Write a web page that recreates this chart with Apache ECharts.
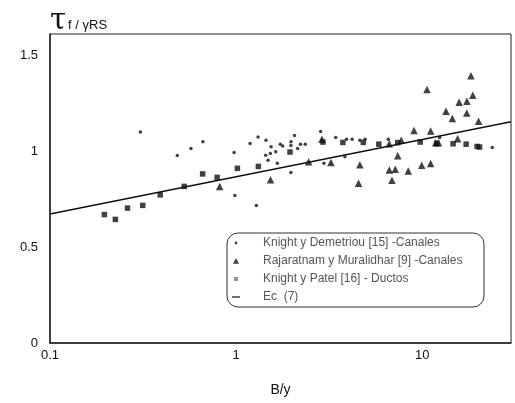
<!DOCTYPE html>
<html>
<head>
<meta charset="utf-8">
<script src="https://cdn.jsdelivr.net/npm/echarts@6/dist/echarts.min.js"></script>
<style>html,body{margin:0;padding:0;background:#fff}#c{width:515px;height:403px}</style>
</head>
<body>
<div id="c"></div>
<script>
// Knight y Demetriou [15] - Canales (dots)
var demetriouPts = [
  [0.306,1.100],[0.483,0.977],[0.572,1.014],[0.663,1.048],[0.976,0.993],[0.984,0.769],
  [1.189,1.040],[1.285,0.717],[1.312,1.073],[1.443,0.978],[1.448,1.056],[1.485,0.952],
  [1.527,0.988],[1.541,1.022],[1.633,0.996],[1.665,0.936],[1.728,1.035],[1.780,1.026],
  [1.972,1.048],[1.970,1.029],[1.970,0.889],[2.059,1.081],[2.142,1.013],[2.217,1.035],
  [2.352,1.036],[2.846,1.102],[2.964,0.936],[3.428,1.071],[3.841,0.970],[3.922,1.062],
  [4.203,1.062],[4.623,1.057],[4.935,1.061],[6.573,1.061],[12.41,1.071],[23.79,1.019]
];
// Rajaratnam y Muralidhar [9] - Canales (triangles)
var rajaratnamPts = [
  [0.816,0.816],[1.531,0.850],[2.454,0.945],[2.892,1.062],[3.232,0.940],[4.623,0.929],
  [4.549,0.832],[6.655,0.901],[6.879,0.848],[7.165,0.905],[7.389,0.975],[7.716,1.057],
  [6.650,1.038],[8.414,0.896],[9.036,1.107],[9.94,0.926],[10.61,1.321],[11.11,1.104],
  [11.10,0.935],[11.82,1.043],[12.22,1.043],[13.42,1.207],[14.52,1.170],[15.50,1.064],
  [15.79,1.255],[17.39,1.259],[17.35,1.199],[18.27,1.392],[18.70,1.291],[20.09,1.155]
];
// Knight y Patel [16] - Ductos (squares)
var patelPts = [
  [0.196,0.669],[0.2245,0.644],[0.261,0.703],[0.315,0.717],[0.391,0.772],[0.526,0.816],
  [0.661,0.881],[0.791,0.863],[1.016,0.910],[1.317,0.920],[1.948,0.995],[2.928,1.047],
  [3.747,1.045],[4.826,1.045],[5.846,1.036],[7.389,1.044],[9.76,1.047],[11.96,1.040],
  [14.66,1.038],[17.22,1.036],[19.72,1.024],[20.33,1.021]
];
// Ec (7)
var ecLine = [[0.1,0.672],[1,0.866],[10,1.060],[30,1.153]];

var seriesNames = [
  'Knight y Demetriou [15] -Canales',
  'Rajaratnam y Muralidhar [9] -Canales',
  'Knight y Patel [16] - Ductos',
  'Ec  (7)'
];
var xTicks = [0.1, 1, 10];
var yTicks = [0, 0.5, 1, 1.5];

function pickTick(list, v) {
  for (var i = 0; i < list.length; i++) {
    if (Math.abs(v - list[i]) < 1e-6 * Math.max(1, list[i])) return String(list[i]);
  }
  return '';
}

var chart = echarts.init(document.getElementById('c'), null, {renderer:'canvas'});
var FONT = 'Liberation Sans, Arial, sans-serif';
chart.setOption({
  animation: false,
  backgroundColor: '#fff',
  title: {
    text: '{a|τ}{b|f / γRS}',
    left: 45, top: 2,
    textStyle: {
      fontWeight: 'normal',
      rich: {
        a: {fontSize: 29, fontFamily: 'DejaVu Serif', fontWeight: 'normal', color: '#111'},
        b: {fontSize: 13, fontFamily: FONT, fontWeight: 'normal', color: '#111', padding:[7,0,0,2]}
      }
    }
  },
  grid: {left: 50, right: 4, top: 34, bottom: 60, show: true, borderColor: '#222', borderWidth: 1},
  xAxis: {
    type: 'log', logBase: 10, min: 0.1, max: 30,
    name: 'B/y', nameLocation: 'middle', nameGap: 40,
    nameTextStyle: {fontSize: 14, fontFamily: FONT, color: '#111'},
    axisLine: {lineStyle: {color: '#222', width: 1.5}},
    axisTick: {show: false},
    splitLine: {show: false},
    axisLabel: {fontSize: 13, fontFamily: FONT, color: '#111', margin: 6,
      formatter: function (v) { return pickTick(xTicks, v); }}
  },
  yAxis: {
    type: 'value', min: 0, max: 1.61, interval: 0.5,
    axisLine: {show: true, lineStyle: {color: '#222', width: 1.5}},
    axisTick: {show: false},
    splitLine: {show: false},
    axisLabel: {fontSize: 13, fontFamily: FONT, color: '#111', margin: 12,
      formatter: function (v) { return pickTick(yTicks, v); }}
  },
  legend: {
    orient: 'vertical', left: 227, top: 233,
    padding: [4, 9, 4, 4], itemGap: 6, itemWidth: 10, itemHeight: 10,
    borderColor: '#333', borderWidth: 1, borderRadius: 11,
    textStyle: {fontSize: 12, fontFamily: FONT, color: '#555', lineHeight: 12, padding: [0, 0, 0, 17], width: 212},
    data: [
      {name: seriesNames[0], icon: 'path://M0,0 M10,10 M3.6,5 A1.4,1.4 0 1,0 6.4,5 A1.4,1.4 0 1,0 3.6,5 Z'},
      {name: seriesNames[1], icon: 'path://M0,0 M10,10 M5,2 L8,7.8 L2,7.8 Z'},
      {name: seriesNames[2], icon: 'path://M0,0 M10,10 M3,3 L7,3 L7,7 L3,7 Z', itemStyle: {color: '#777'}},
      {name: seriesNames[3], icon: 'path://M0,0 M10,10 M1,4.4 L9,4.4 L9,5.6 L1,5.6 Z', itemStyle: {color: '#111'}}
    ]
  },
  series: [
    {name: seriesNames[0], type: 'scatter', data: demetriouPts, symbol: 'circle', symbolSize: 3.5,
      itemStyle: {color: '#111'}},
    {name: seriesNames[1], type: 'scatter', data: rajaratnamPts, symbol: 'triangle', symbolSize: 7.5,
      itemStyle: {color: '#111'}},
    {name: seriesNames[2], type: 'scatter', data: patelPts, symbol: 'rect', symbolSize: 5.5,
      itemStyle: {color: '#111'}},
    {name: seriesNames[3], type: 'line', data: ecLine, symbol: 'none', showSymbol: false,
      lineStyle: {color: '#111', width: 1.5}, itemStyle: {color: '#111'}}
  ]
});
</script>
</body>
</html>
